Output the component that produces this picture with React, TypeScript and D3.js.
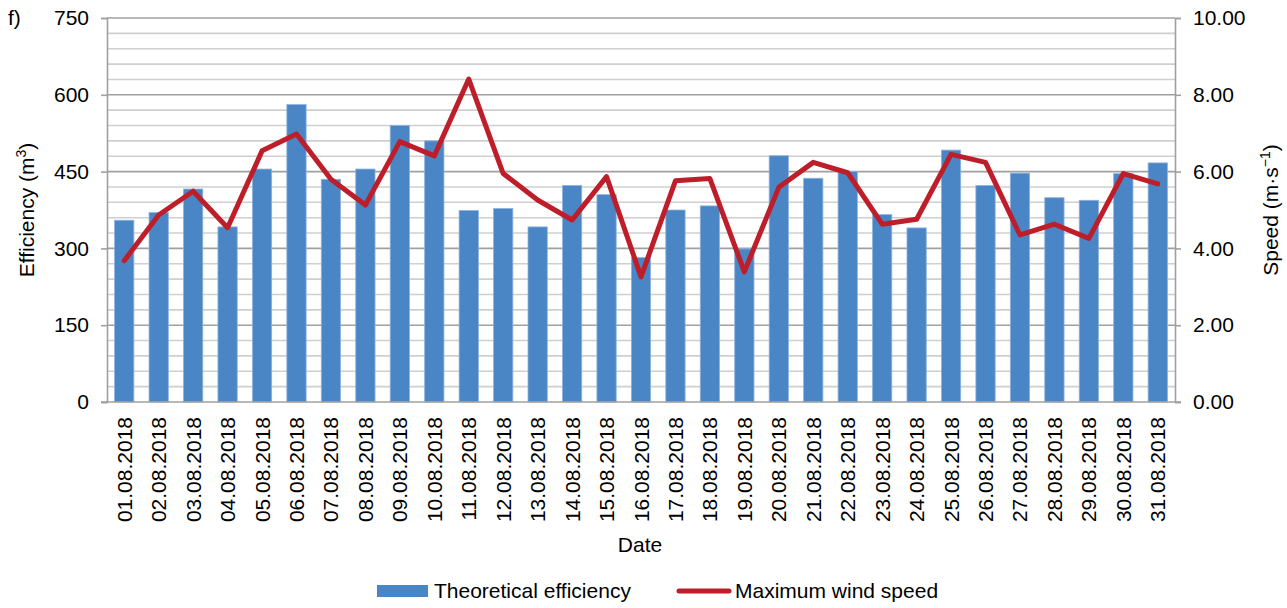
import { useEffect, useRef } from 'react'
import * as d3 from 'd3'

// Data
const dates = [
  '01.08.2018', '02.08.2018', '03.08.2018', '04.08.2018', '05.08.2018', '06.08.2018',
  '07.08.2018', '08.08.2018', '09.08.2018', '10.08.2018', '11.08.2018', '12.08.2018',
  '13.08.2018', '14.08.2018', '15.08.2018', '16.08.2018', '17.08.2018', '18.08.2018',
  '19.08.2018', '20.08.2018', '21.08.2018', '22.08.2018', '23.08.2018', '24.08.2018',
  '25.08.2018', '26.08.2018', '27.08.2018', '28.08.2018', '29.08.2018', '30.08.2018',
  '31.08.2018',
]
const efficiency = [
  355, 370, 416, 342, 455, 581, 435, 455, 540, 510, 374, 378, 342, 423, 405, 282,
  375, 383, 299, 481, 437, 450, 366, 340, 492, 423, 447, 399, 394, 446, 467,
]
const windSpeed = [
  3.68, 4.87, 5.49, 4.54, 6.54, 6.98, 5.80, 5.13, 6.78, 6.41, 8.41, 5.95, 5.26, 4.74,
  5.87, 3.26, 5.76, 5.82, 3.39, 5.59, 6.24, 5.97, 4.63, 4.76, 6.45, 6.24, 4.35, 4.63,
  4.26, 5.95, 5.68,
]
const leftTicks = [0, 150, 300, 450, 600, 750]
const rightTicks = [0, 2, 4, 6, 8, 10]

export default function App() {
  const svgRef = useRef<SVGSVGElement>(null)

  useEffect(() => {
    if (!svgRef.current) return
    const width = 1287
    const height = 608
    const marginLeft = 107
    const marginRight = 112
    const marginTop = 18
    const marginBottom = 206
    const fs = 21
    const font = 'Liberation Sans, Arial, sans-serif'
    const barColor = '#4a86c6'
    const lineColor = '#be1e2a'

    const svg = d3.select(svgRef.current)
      .attr('width', width)
      .attr('height', height)
      .attr('viewBox', [0, 0, width, height])
      .style('font-family', font)

    const x = d3.scaleBand<string>()
      .domain(dates)
      .range([marginLeft, width - marginRight])
      .paddingInner(0.44)
      .paddingOuter(0.22)
    const yLeft = d3.scaleLinear().domain([0, 750]).range([height - marginBottom, marginTop])
    const yRight = d3.scaleLinear().domain([0, 10]).range([height - marginBottom, marginTop])

    // Gridlines: minor every 30, major every 150
    const grid = svg.append('g')
    grid.selectAll('line.minor')
      .data(d3.range(30, 750, 30).filter(v => v % 150 !== 0))
      .join('line')
      .attr('x1', marginLeft).attr('x2', width - marginRight)
      .attr('y1', d => yLeft(d)).attr('y2', d => yLeft(d))
      .attr('stroke', '#cfcfcf').attr('stroke-width', 1.6)
    grid.selectAll('line.major')
      .data(leftTicks.slice(1))
      .join('line')
      .attr('x1', marginLeft).attr('x2', width - marginRight)
      .attr('y1', d => yLeft(d)).attr('y2', d => yLeft(d))
      .attr('stroke', '#a0a0a0').attr('stroke-width', 1.6)

    // Bars
    svg.append('g')
      .selectAll('rect')
      .data(efficiency)
      .join('rect')
      .attr('x', (_, i) => x(dates[i])!)
      .attr('width', x.bandwidth())
      .attr('y', d => yLeft(d))
      .attr('height', d => yLeft(0) - yLeft(d))
      .attr('fill', barColor)
      .attr('stroke', '#8fb3dd')
      .attr('stroke-width', 0.8)

    // Left axis
    const left = svg.append('g')
      .attr('transform', `translate(${marginLeft},0)`)
      .call(d3.axisLeft(yLeft).tickValues(leftTicks).tickSize(6).tickPadding(12).tickFormat(d3.format('d')))
    left.select('.domain').attr('stroke', '#a0a0a0').attr('stroke-width', 1.6)
    left.selectAll('.tick line').attr('stroke', '#a0a0a0').attr('stroke-width', 1.6)
    left.selectAll('.tick text').attr('font-size', fs).attr('font-family', font).attr('fill', '#000')

    // Right axis
    const right = svg.append('g')
      .attr('transform', `translate(${width - marginRight},0)`)
      .call(d3.axisRight(yRight).tickValues(rightTicks).tickSize(6).tickPadding(12).tickFormat(d3.format('.2f')))
    right.select('.domain').attr('stroke', '#a0a0a0').attr('stroke-width', 1.6)
    right.selectAll('.tick line').attr('stroke', '#a0a0a0').attr('stroke-width', 1.6)
    right.selectAll('.tick text').attr('font-size', fs).attr('font-family', font).attr('fill', '#000')

    // Bottom axis line
    svg.append('line')
      .attr('x1', marginLeft - 6).attr('x2', width - marginRight + 6)
      .attr('y1', yLeft(0)).attr('y2', yLeft(0))
      .attr('stroke', '#a0a0a0').attr('stroke-width', 1.6)

    // Category labels, rotated
    svg.append('g')
      .selectAll('text')
      .data(dates)
      .join('text')
      .attr('transform', d => `translate(${x(d)! + x.bandwidth() / 2 + 7.5},${yLeft(0) + 15}) rotate(-90)`)
      .attr('text-anchor', 'end')
      .attr('font-size', fs)
      .attr('fill', '#000')
      .text(d => d)

    // Line
    const line = d3.line<number>()
      .x((_, i) => x(dates[i])! + x.bandwidth() / 2)
      .y(d => yRight(d))
    svg.append('path')
      .datum(windSpeed)
      .attr('d', line)
      .attr('fill', 'none')
      .attr('stroke', lineColor)
      .attr('stroke-width', 5)
      .attr('stroke-linejoin', 'round')
      .attr('stroke-linecap', 'round')

    // Titles
    svg.append('text').attr('x', 8).attr('y', 25).attr('font-size', fs).text('f)')
    const yTitle = svg.append('text')
      .attr('transform', `translate(34,${(marginTop + yLeft(0)) / 2}) rotate(-90)`)
      .attr('text-anchor', 'middle')
      .attr('font-size', fs)
    yTitle.append('tspan').text('Efficiency (m')
    yTitle.append('tspan').attr('font-size', 14).attr('dy', -8).text('3')
    yTitle.append('tspan').attr('dy', 8).text(')')

    const rTitle = svg.append('text')
      .attr('transform', `translate(1278,${(marginTop + yLeft(0)) / 2}) rotate(-90)`)
      .attr('text-anchor', 'middle')
      .attr('font-size', fs)
    rTitle.append('tspan').text('Speed (m·s')
    rTitle.append('tspan').attr('font-size', 14).attr('dy', -8).text('−1')
    rTitle.append('tspan').attr('dy', 8).text(')')

    svg.append('text')
      .attr('x', 640).attr('y', 552)
      .attr('text-anchor', 'middle')
      .attr('font-size', fs)
      .text('Date')

    // Legend
    const legend = svg.append('g')
    legend.append('rect')
      .attr('x', 377).attr('y', 585).attr('width', 51).attr('height', 12)
      .attr('fill', barColor)
    legend.append('text').attr('x', 434).attr('y', 598).attr('font-size', fs).text('Theoretical efficiency')
    legend.append('line')
      .attr('x1', 679).attr('x2', 729).attr('y1', 591).attr('y2', 591)
      .attr('stroke', lineColor).attr('stroke-width', 5).attr('stroke-linecap', 'round')
    legend.append('text').attr('x', 735).attr('y', 598).attr('font-size', fs).text('Maximum wind speed')

    return () => {
      svg.selectAll('*').remove()
    }
  }, [])

  return <svg ref={svgRef} style={{ position: 'absolute', left: 0, top: 0 }} />
}
